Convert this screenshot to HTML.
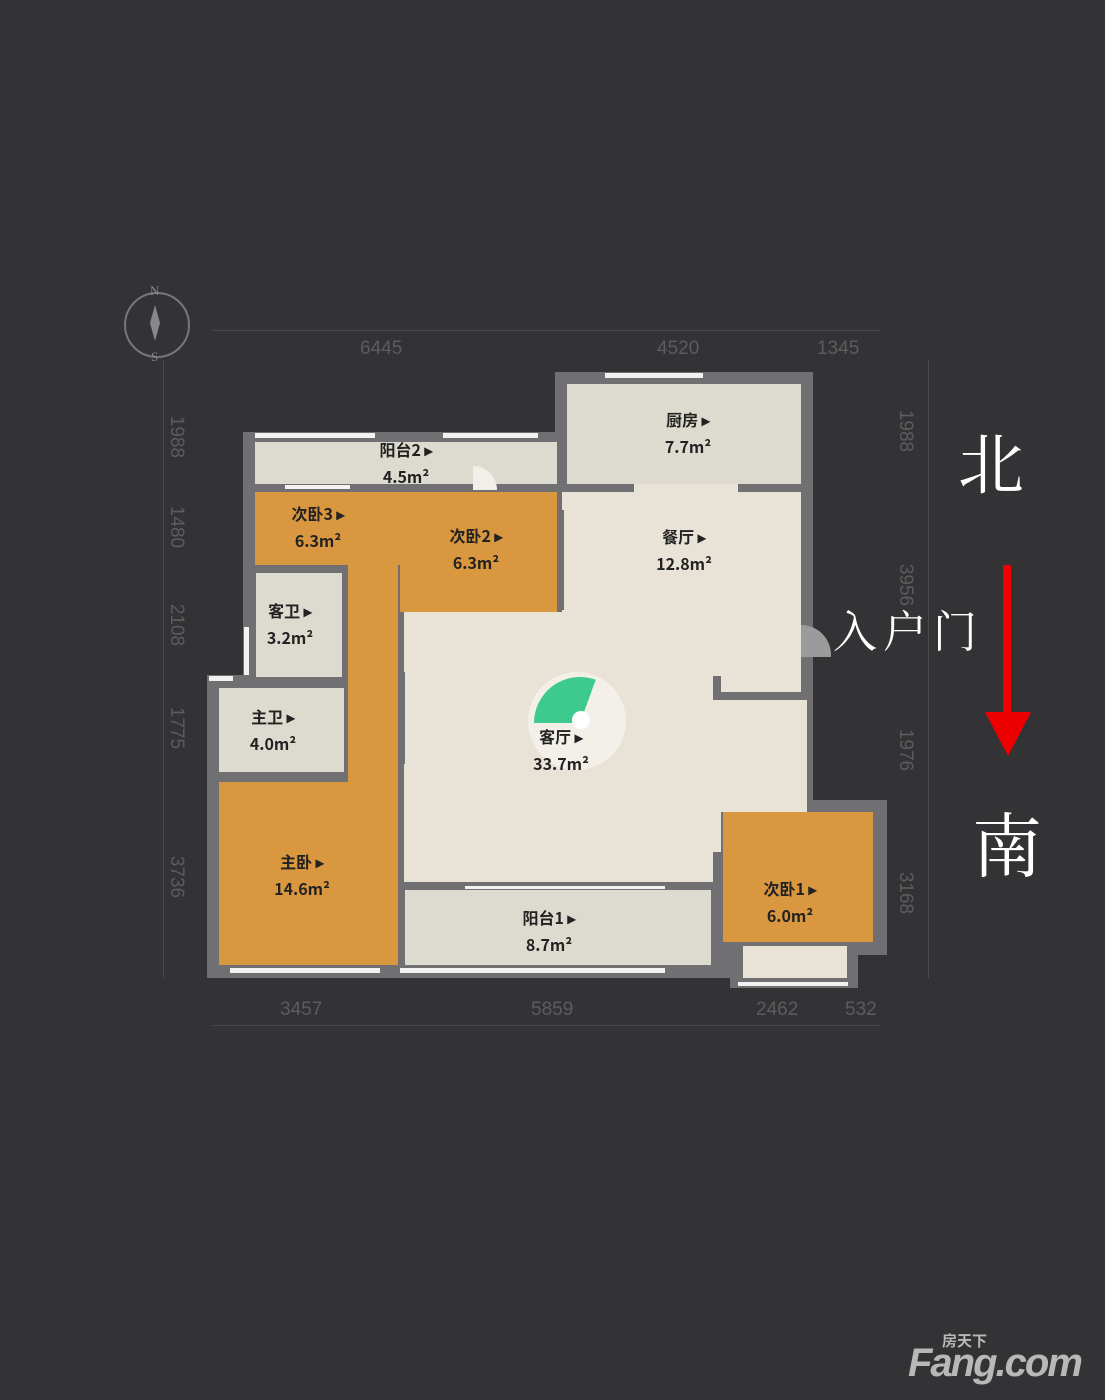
<!DOCTYPE html>
<html><head><meta charset="utf-8"><style>
body{margin:0;width:1105px;height:1400px;background:#333335;position:relative;overflow:hidden;font-family:"Liberation Sans","Noto Sans CJK SC",sans-serif}
div{position:absolute}
.w{background:#707073}
.o{background:#d9973f}
.b{background:#e8e3d6}
.g{background:#dddbcf}
.win{background:#f2f2f2}
.l{color:#222;font-size:16px;font-weight:bold;text-align:center;line-height:27px;width:120px;font-family:"Noto Sans CJK SC",sans-serif}
.d{color:#5c5c5e;font-size:19px;font-family:"Liberation Sans",sans-serif}
.v{transform:rotate(90deg);transform-origin:center}
.hl{background:#4a4a4c;height:1px}
.vl{background:#4a4a4c;width:1px}
.cn{color:#fff;font-family:"Noto Serif CJK SC",serif}
</style></head><body>
<!-- walls -->
<div class="w" style="left:555px;top:372px;width:258px;height:130px"></div>
<div class="w" style="left:243px;top:432px;width:320px;height:152px"></div>
<div class="w" style="left:243px;top:560px;width:160px;height:127px"></div>
<div class="w" style="left:207px;top:675px;width:196px;height:303px"></div>
<div class="w" style="left:395px;top:480px;width:418px;height:498px"></div>
<div class="w" style="left:700px;top:800px;width:187px;height:155px"></div>
<div class="w" style="left:730px;top:940px;width:128px;height:48px"></div>
<!-- rooms -->
<div class="g" style="left:567px;top:384px;width:234px;height:100px"></div>
<div class="g" style="left:255px;top:442px;width:302px;height:42px"></div>
<div class="o" style="left:255px;top:492px;width:302px;height:73px"></div>
<div class="o" style="left:400px;top:492px;width:157px;height:120px"></div>
<div class="o" style="left:348px;top:560px;width:50px;height:405px"></div>
<div class="g" style="left:256px;top:573px;width:86px;height:104px"></div>
<div class="g" style="left:219px;top:688px;width:125px;height:84px"></div>
<div class="o" style="left:219px;top:782px;width:178px;height:183px"></div>
<div class="b" style="left:562px;top:492px;width:239px;height:200px"></div>
<div class="b" style="left:634px;top:484px;width:104px;height:8px"></div>
<div class="b" style="left:404px;top:612px;width:309px;height:270px"></div>
<div class="b" style="left:562px;top:600px;width:151px;height:30px"></div>
<div class="b" style="left:713px;top:700px;width:94px;height:112px"></div>
<div class="b" style="left:713px;top:812px;width:8px;height:40px"></div>
<div class="b" style="left:720px;top:600px;width:81px;height:90px"></div>
<div class="w" style="left:713px;top:676px;width:8px;height:24px"></div>
<div class="w" style="left:713px;top:694px;width:88px;height:6px"></div>
<div class="w" style="left:398px;top:672px;width:7px;height:92px"></div>
<div class="w" style="left:557px;top:510px;width:7px;height:100px"></div>
<div class="o" style="left:723px;top:812px;width:150px;height:130px"></div>
<div class="g" style="left:405px;top:890px;width:306px;height:75px"></div>
<div class="b" style="left:743px;top:946px;width:104px;height:32px"></div>
<!-- windows -->
<div class="win" style="left:605px;top:373px;width:98px;height:5px"></div>
<div class="win" style="left:255px;top:433px;width:120px;height:5px"></div>
<div class="win" style="left:443px;top:433px;width:95px;height:5px"></div>
<div class="win" style="left:285px;top:485px;width:65px;height:4px"></div>
<div class="win" style="left:244px;top:627px;width:5px;height:48px"></div>
<div class="win" style="left:209px;top:676px;width:24px;height:5px"></div>
<div class="win" style="left:230px;top:968px;width:150px;height:5px"></div>
<div class="win" style="left:400px;top:968px;width:265px;height:5px"></div>
<div class="win" style="left:465px;top:886px;width:200px;height:3px"></div>
<div class="win" style="left:738px;top:982px;width:110px;height:4px"></div>
<div style="left:473px;top:466px;width:24px;height:24px;border-radius:0 24px 0 0;background:#f0efe9"></div>
<div style="left:801px;top:625px;width:30px;height:32px;background:#9b9b9b;border-radius:0 30px 0 0"></div>
<!-- compass marker -->
<div style="left:528px;top:672px;width:98px;height:98px;border-radius:50%;background:rgba(255,255,255,0.45)"></div>
<div style="left:532px;top:675px;width:96px;height:96px;border-radius:50%;background:conic-gradient(from 270deg,#3ec98f 0deg,#3ec98f 110deg,transparent 110deg);clip-path:circle(46px at 48px 48px)"></div>
<div style="left:572px;top:711px;width:18px;height:18px;border-radius:50%;background:#fff"></div>
<!-- labels -->
<div class="l" style="left:628px;top:406px">厨房 ▸<br>7.7m²</div>
<div class="l" style="left:346px;top:436px">阳台2 ▸<br>4.5m²</div>
<div class="l" style="left:258px;top:500px">次卧3 ▸<br>6.3m²</div>
<div class="l" style="left:416px;top:522px">次卧2 ▸<br>6.3m²</div>
<div class="l" style="left:624px;top:523px">餐厅 ▸<br>12.8m²</div>
<div class="l" style="left:230px;top:597px">客卫 ▸<br>3.2m²</div>
<div class="l" style="left:213px;top:703px">主卫 ▸<br>4.0m²</div>
<div class="l" style="left:501px;top:723px">客厅 ▸<br>33.7m²</div>
<div class="l" style="left:242px;top:848px">主卧 ▸<br>14.6m²</div>
<div class="l" style="left:489px;top:904px">阳台1 ▸<br>8.7m²</div>
<div class="l" style="left:730px;top:875px">次卧1 ▸<br>6.0m²</div>
<!-- dimension lines -->
<div class="hl" style="left:213px;top:330px;width:667px"></div>
<div class="hl" style="left:213px;top:1025px;width:667px"></div>
<div class="vl" style="left:163px;top:360px;height:618px"></div>
<div class="vl" style="left:928px;top:360px;height:618px"></div>
<div class="d" style="left:360px;top:338px">6445</div>
<div class="d" style="left:657px;top:338px">4520</div>
<div class="d" style="left:817px;top:338px">1345</div>
<div class="d" style="left:280px;top:999px">3457</div>
<div class="d" style="left:531px;top:999px">5859</div>
<div class="d" style="left:756px;top:999px">2462</div>
<div class="d" style="left:845px;top:999px">532</div>
<div class="d v" style="left:155px;top:426px">1988</div>
<div class="d v" style="left:155px;top:516px">1480</div>
<div class="d v" style="left:155px;top:614px">2108</div>
<div class="d v" style="left:155px;top:717px">1775</div>
<div class="d v" style="left:155px;top:866px">3736</div>
<div class="d v" style="left:884px;top:420px">1988</div>
<div class="d v" style="left:884px;top:574px">3956</div>
<div class="d v" style="left:884px;top:739px">1976</div>
<div class="d v" style="left:884px;top:882px">3168</div>
<!-- compass -->
<div style="left:124px;top:292px;width:62px;height:62px;border:2px solid #77777a;border-radius:50%"></div>
<div style="left:150px;top:305px;width:10px;height:36px;background:#88888a;clip-path:polygon(50% 0,100% 50%,50% 100%,0 50%)"></div>
<div style="left:150px;top:283px;color:#88888a;font-size:13px;font-family:'Liberation Serif',serif">N</div>
<div style="left:151px;top:349px;color:#88888a;font-size:13px;font-family:'Liberation Serif',serif">S</div>
<!-- annotations -->
<div class="cn" style="left:958px;top:420px;font-size:66px;line-height:80px">北</div>
<div class="cn" style="left:972px;top:800px;font-size:70px;line-height:84px">南</div>
<div class="cn" style="left:833px;top:600px;font-size:44px;line-height:56px;letter-spacing:6px">入户门</div>
<div style="left:1003px;top:565px;width:8px;height:150px;background:#ee0000"></div>
<div style="left:985px;top:712px;width:46px;height:44px;background:#ee0000;clip-path:polygon(0 0,100% 0,50% 100%)"></div>
<!-- logo -->
<div style="left:908px;top:1340px;color:#b8b8b8;font-weight:bold;font-size:40px;line-height:46px;font-family:'Liberation Sans',sans-serif;letter-spacing:-2px;font-style:italic">Fang.com</div>
<div style="left:942px;top:1330px;color:#b8b8b8;font-weight:bold;font-size:15px;font-family:'Noto Sans CJK SC',sans-serif">房天下</div>
</body></html>
